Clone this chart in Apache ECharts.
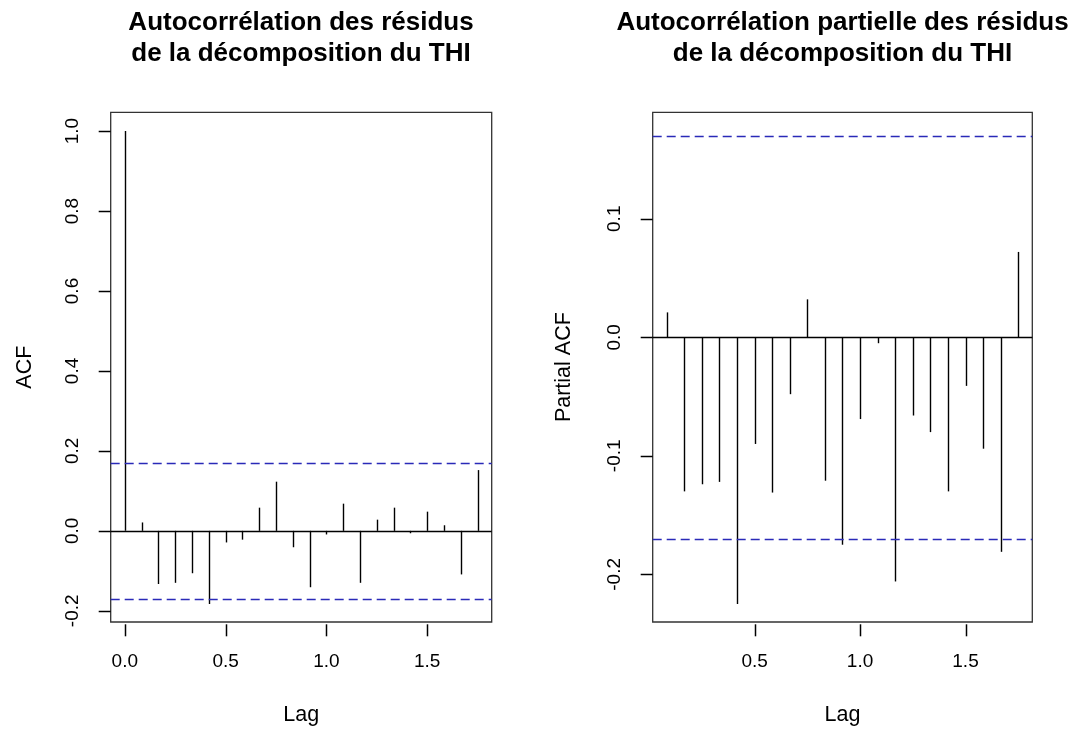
<!DOCTYPE html>
<html>
<head>
<meta charset="utf-8">
<script src="https://cdn.jsdelivr.net/npm/echarts@6/dist/echarts.min.js"></script>
<style>
html,body{margin:0;padding:0;background:#fff;}
#chart{width:1075px;height:731px;}
</style>
</head>
<body>
<div id="chart"></div>
<script>
// ---- data ----
const frequency = 12;
const acfLagMonths = [0,1,2,3,4,5,6,7,8,9,10,11,12,13,14,15,16,17,18,19,20,21];
const acfValues = [1.0, 0.021, -0.133, -0.130, -0.106, -0.183, -0.029, -0.022, 0.058, 0.123, -0.041,
                   -0.141, -0.009, 0.068, -0.130, 0.028, 0.058, -0.006, 0.048, 0.014, -0.109, 0.152];
const pacfLagMonths = [1,2,3,4,5,6,7,8,9,10,11,12,13,14,15,16,17,18,19,20,21];
const pacfValues = [0.021, -0.130, -0.124, -0.122, -0.225, -0.090, -0.131, -0.048, 0.032, -0.121,
                    -0.175, -0.069, -0.005, -0.206, -0.066, -0.080, -0.130, -0.041, -0.094, -0.181, 0.072];
const confLimit = 0.1739;
const acfYTicks = [-0.2, 0.0, 0.2, 0.4, 0.6, 0.8, 1.0];
const pacfYTicks = [-0.2, -0.1, 0.0, 0.1];
const acfXTicks = [0.0, 0.5, 1.0, 1.5];
const pacfXTicks = [0.5, 1.0, 1.5];
const titles = ["Autocorrélation des résidus\nde la décomposition du THI",
                "Autocorrélation partielle des résidus\nde la décomposition du THI"];
const xName = "Lag";
const yNames = ["ACF", "Partial ACF"];

// ---- build ----
const FONT = "'Liberation Sans', Arial, sans-serif";
const acfData = acfLagMonths.map((m, i) => [m / frequency, acfValues[i]]);
const pacfData = pacfLagMonths.map((m, i) => [m / frequency, pacfValues[i]]);
const boxColor = '#333';
const TICK_LEN = 12;

const grids = [
  {left: 110.7, top: 112.3, width: 381, height: 512},
  {left: 652.7, top: 112.3, width: 379.6, height: 512}
];

function spikeRender(params, api) {
  const x = api.value(0), y = api.value(1);
  const p0 = api.coord([x, 0]);
  const p1 = api.coord([x, y]);
  return {
    type: 'line',
    shape: {x1: Math.round(p0[0]) + 0.5, y1: p0[1], x2: Math.round(p1[0]) + 0.5, y2: p1[1]},
    style: {stroke: '#000', lineWidth: 1.4}
  };
}

function fmt(v) { return (Math.round(v * 10) / 10).toFixed(1); }

function xAxis(idx, min, max, ticks) {
  return {
    type: 'value', gridIndex: idx, min: min, max: max, position: 'bottom',
    axisLine: {show: false, onZero: false},
    splitLine: {show: false},
    axisTick: {show: false},
    axisLabel: {customValues: ticks, formatter: fmt, margin: 30, color: '#000',
                fontSize: 19, fontFamily: FONT},
    name: xName, nameLocation: 'middle', nameGap: 82,
    nameTextStyle: {color: '#000', fontSize: 21.5, fontFamily: FONT}
  };
}
function yAxis(idx, min, max, ticks, name, gap) {
  return {
    type: 'value', gridIndex: idx, min: min, max: max, position: 'left',
    axisLine: {show: false, onZero: false},
    splitLine: {show: false},
    axisTick: {show: false},
    axisLabel: {customValues: ticks, formatter: fmt, margin: 28, rotate: 90, color: '#000',
                fontSize: 19, fontFamily: FONT},
    name: name, nameLocation: 'middle', nameGap: gap,
    nameTextStyle: {color: '#000', fontSize: 21.5, fontFamily: FONT}
  };
}

function refLines(idx) {
  return {
    type: 'line', xAxisIndex: idx, yAxisIndex: idx, data: [], silent: true,
    markLine: {
      silent: true, symbol: ['none', 'none'], animation: false,
      label: {show: false},
      lineStyle: {color: '#2a2ab8', width: 1.3, type: [9, 5]},
      data: [
        {yAxis: confLimit},
        {yAxis: -confLimit},
        {yAxis: 0, lineStyle: {color: '#000', width: 1.3, type: 'solid'}}
      ]
    }
  };
}

const option = {
  animation: false,
  backgroundColor: '#fff',
  title: [
    {text: titles[0], left: 301, top: 8, padding: 0, textAlign: 'center',
     textStyle: {fontSize: 26, fontWeight: 'bold', color: '#000', fontFamily: FONT, lineHeight: 30.6}},
    {text: titles[1], left: 842.5, top: 8, padding: 0, textAlign: 'center',
     textStyle: {fontSize: 26, fontWeight: 'bold', color: '#000', fontFamily: FONT, lineHeight: 30.6}}
  ],
  grid: grids.map(g => Object.assign({show: true, borderColor: boxColor, borderWidth: 1.3,
     backgroundColor: 'transparent', containLabel: false}, g)),
  xAxis: [
    xAxis(0, -0.07, 1.82, acfXTicks),
    xAxis(1, 0.0167, 1.8167, pacfXTicks)
  ],
  yAxis: [
    yAxis(0, -0.228, 1.047, acfYTicks, yNames[0], 75),
    yAxis(1, -0.2402, 0.1898, pacfYTicks, yNames[1], 78)
  ],
  series: [
    refLines(0),
    refLines(1),
    {type: 'custom', xAxisIndex: 0, yAxisIndex: 0, data: acfData, renderItem: spikeRender,
     encode: {x: 0, y: 1}, silent: true},
    {type: 'custom', xAxisIndex: 1, yAxisIndex: 1, data: pacfData, renderItem: spikeRender,
     encode: {x: 0, y: 1}, silent: true}
  ]
};

const chart = echarts.init(document.getElementById('chart'), null, {renderer: 'canvas'});
chart.setOption(option);

// outward axis ticks, positioned through the axes' own scales
const tickGraphics = [];
[[acfXTicks, acfYTicks], [pacfXTicks, pacfYTicks]].forEach(([xt, yt], gi) => {
  const g = grids[gi];
  const bottom = g.top + g.height;
  xt.forEach(v => {
    const p = chart.convertToPixel({gridIndex: gi}, [v, 0]);
    const px = Math.round(p[0]) + 0.5;
    tickGraphics.push({type: 'line', silent: true, z: 100,
      shape: {x1: px, y1: bottom, x2: px, y2: bottom + TICK_LEN},
      style: {stroke: '#000', lineWidth: 1.5}});
  });
  yt.forEach(v => {
    const p = chart.convertToPixel({gridIndex: gi}, [0.5, v]);
    const py = Math.round(p[1]) + 0.5;
    tickGraphics.push({type: 'line', silent: true, z: 100,
      shape: {x1: g.left - TICK_LEN, y1: py, x2: g.left, y2: py},
      style: {stroke: '#000', lineWidth: 1.5}});
  });
});
chart.setOption({graphic: {elements: tickGraphics}});
</script>
</body>
</html>
